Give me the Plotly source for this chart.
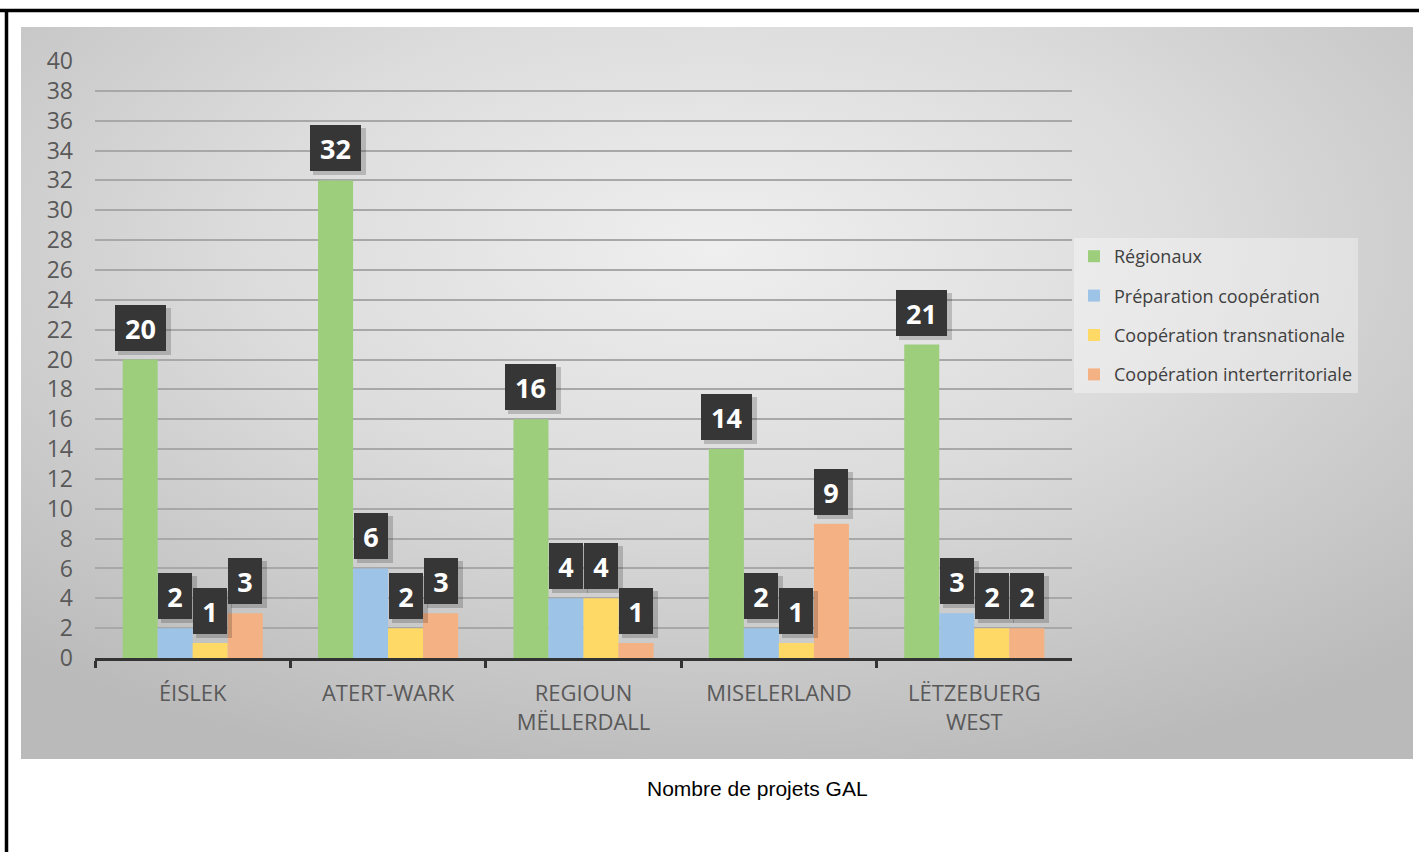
import base64
import plotly.graph_objects as go

# ---------------- data ----------------
categories = ["ÉISLEK", "ATERT-WARK", "REGIOUN<br>MËLLERDALL", "MISELERLAND", "LËTZEBUERG<br>WEST"]
series_names = ["Régionaux", "Préparation coopération", "Coopération transnationale", "Coopération interterritoriale"]
regionaux = [20, 32, 16, 14, 21]
preparation = [2, 6, 4, 2, 3]
transnationale = [1, 2, 4, 1, 2]
interterritoriale = [3, 3, 1, 9, 2]
y_ticks = list(range(0, 41, 2))
caption = "Nombre de projets GAL"

series_values = [regionaux, preparation, transnationale, interterritoriale]
colors = ["#9cce7c", "#9dc3e6", "#ffd966", "#f4b183"]

# ---------------- layout constants ----------------
W, H = 1419, 852
x_dom = [95 / W, 1072 / W]
y_dom = [(H - 658) / H, (H - 61) / H]
bargap = 0.283

fig = go.Figure()
for name, vals, col in zip(series_names, series_values, colors):
    fig.add_trace(go.Bar(
        x=categories, y=vals, name=name, marker=dict(color=col, line=dict(width=0)),
        legendgroup=name, hoverinfo="x+y+name",
    ))

# data-label boxes (dark squares with white bold numbers)
cat_px = (x_dom[1] - x_dom[0]) * W / len(categories)
bar_px = cat_px * (1 - bargap) / len(series_values)
annotations = []
for si, vals in enumerate(series_values):
    shift = (si - (len(series_values) - 1) / 2) * bar_px
    for cat, v in zip(categories, vals):
        bw = 34 if len(str(v)) == 1 else 51
        annotations.append(dict(
            x=cat, y=v, xref="x", yref="y", text="", showarrow=False,
            xshift=shift + 4, yshift=5, yanchor="bottom", xanchor="center",
            width=bw + 2, height=47, bgcolor="rgba(0,0,0,0.18)",
            borderpad=0, borderwidth=0,
        ))
for si, vals in enumerate(series_values):
    shift = (si - (len(series_values) - 1) / 2) * bar_px
    for cat, v in zip(categories, vals):
        bw = 34 if len(str(v)) == 1 else 51
        annotations.append(dict(
            x=cat, y=v, xref="x", yref="y", text=f"<b>{v}</b>", showarrow=False,
            xshift=shift, yshift=9, yanchor="bottom", xanchor="center",
            width=bw, height=46, bgcolor="#363636",
            borderpad=0, borderwidth=0,
            font=dict(family="Open Sans", size=27, color="white"),
        ))

annotations.append(dict(
    x=757 / W, y=(H - 788) / H, xref="paper", yref="paper", text=caption,
    showarrow=False, xanchor="center", yanchor="middle",
    font=dict(family="Liberation Sans, Arial", size=21, color="black"),
))

# background radial gradient (Excel-like chart area)
svg = (
    "<svg xmlns='http://www.w3.org/2000/svg' width='1392' height='732'>"
    "<defs><radialGradient id='g' cx='50%' cy='30%' r='75%'>"
    "<stop offset='0' stop-color='#efefef'/>"
    "<stop offset='0.45' stop-color='#dcdcdc'/>"
    "<stop offset='1' stop-color='#bababa'/>"
    "</radialGradient></defs>"
    "<rect width='1392' height='732' fill='url(#g)'/></svg>"
)
src = "data:image/svg+xml;base64," + base64.b64encode(svg.encode()).decode()

fig.update_layout(
    width=W, height=H,
    margin=dict(l=0, r=0, t=0, b=0, autoexpand=False),
    paper_bgcolor="white",
    plot_bgcolor="rgba(0,0,0,0)",
    barmode="group", bargap=bargap, bargroupgap=0,
    font=dict(family="Open Sans", color="#595959"),
    images=[dict(
        source=src, xref="paper", yref="paper",
        x=21 / W, y=1 - 27 / H, sizex=1392 / W, sizey=732 / H,
        xanchor="left", yanchor="top", sizing="stretch", layer="below",
    )],
    shapes=[
        dict(type="line", xref="paper", yref="paper", x0=0, x1=1,
             y0=1 - 10.5 / H, y1=1 - 10.5 / H, line=dict(color="black", width=3.5)),
        dict(type="line", xref="paper", yref="paper", x0=6.5 / W, x1=6.5 / W,
             y0=0, y1=1 - 9 / H, line=dict(color="black", width=3.5)),
    ],
    xaxis=dict(
        domain=x_dom, showgrid=False, showline=True, linecolor="#333333", linewidth=3,
        ticks="outside", tickson="boundaries", ticklen=7, tickwidth=3, tickcolor="#333333",
        tickfont=dict(family="Open Sans", size=22, color="#595959"),
        ticklabelstandoff=14, automargin=False,
    ),
    yaxis=dict(
        domain=y_dom, range=[0, 40], tickvals=y_ticks, showgrid=True,
        gridcolor="#a8a8a8", gridwidth=2, zeroline=False, showline=False,
        tickfont=dict(family="Open Sans", size=23, color="#595959"),
        ticklabelstandoff=21, automargin=False,
    ),
    legend=dict(
        x=1074 / W, y=1 - 238 / H, xanchor="left", yanchor="top",
        bgcolor="rgba(255,255,255,0.35)", borderwidth=0,
        font=dict(family="Open Sans", size=18, color="#404040"),
        traceorder="grouped", tracegroupgap=13, itemwidth=30,
    ),
    annotations=annotations,
    showlegend=True,
)

fig.write_html(
    "out.html",
    config={"displayModeBar": False},
    post_script="document.body.style.margin='0';document.body.style.overflow='hidden';",
)
